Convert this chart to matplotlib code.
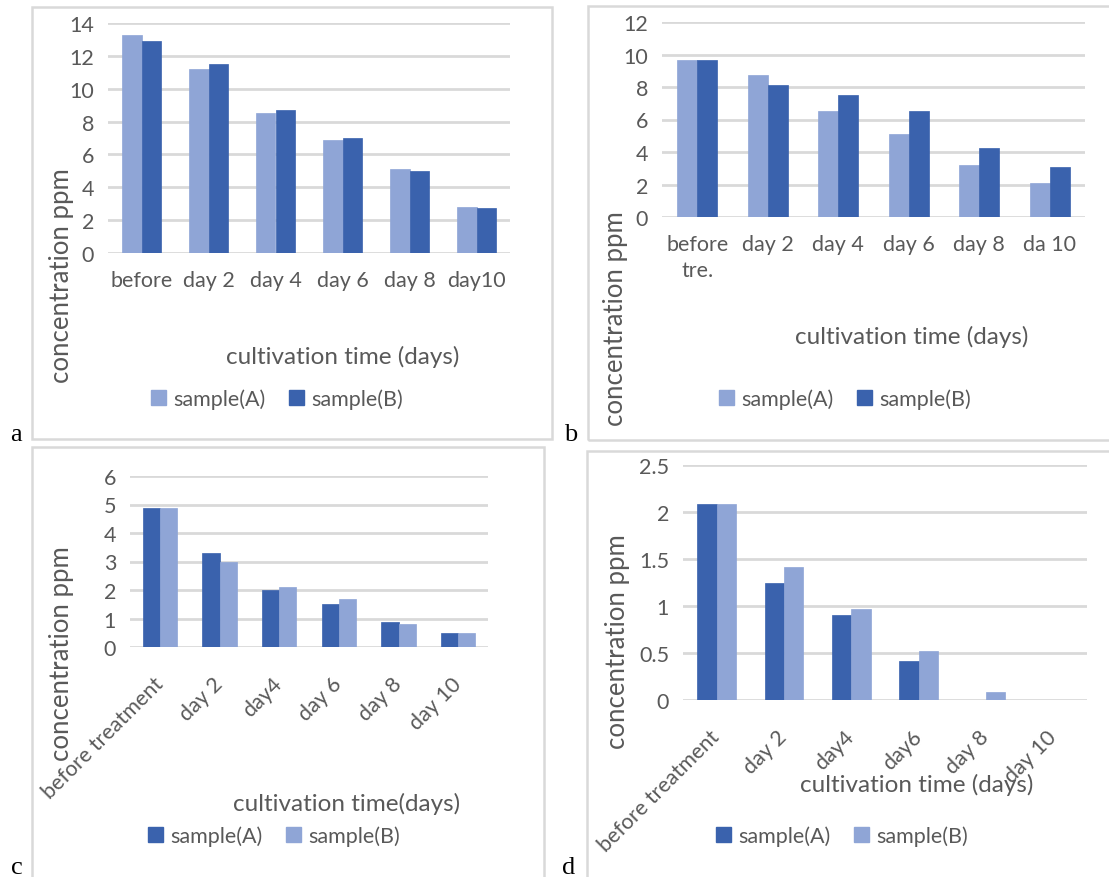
import matplotlib
matplotlib.use("Agg")
import matplotlib.pyplot as plt
from matplotlib.patches import Rectangle, Patch
import numpy as np

plt.rcParams['font.family'] = ['Lato', 'DejaVu Sans']

# ---------------- data ----------------
cats_a = ["before", "day 2", "day 4", "day 6", "day 8", "day10"]
a_sampleA = [13.3, 11.2, 8.5, 6.9, 5.1, 2.8]
a_sampleB = [12.9, 11.5, 8.7, 7.0, 5.0, 2.75]

cats_b = ["before\ntre.", "day 2", "day 4", "day 6", "day 8", "da 10"]
b_sampleA = [9.65, 8.75, 6.5, 5.13, 3.18, 2.09]
b_sampleB = [9.65, 8.1, 7.5, 6.5, 4.23, 3.08]

cats_c = ["before treatment", "day 2", "day4", "day 6", "day 8", "day 10"]
c_sampleA = [4.88, 3.3, 2.0, 1.5, 0.88, 0.5]
c_sampleB = [4.88, 2.98, 2.1, 1.68, 0.81, 0.5]

cats_d = ["before treatment", "day 2", "day4", "day6", "day 8", "day 10"]
d_sampleA = [2.09, 1.24, 0.9, 0.42, 0.0, 0.0]
d_sampleB = [2.09, 1.41, 0.97, 0.52, 0.08, 0.0]

LIGHT = "#8FA5D6"
DARK = "#3A62AD"
GRID = "#D9D9D9"
TXT = "#595959"

TICK_FS = 15.5
YLAB_FS = 18.5
XLAB_FS = 17.5
LEG_FS = 15.5

W, H = 1109, 878
fig = plt.figure(figsize=(W / 100, H / 100), dpi=100)


def fx(x):
    return x / W


def fy(y):
    return 1 - y / H


def box(x0, y0, x1, y1):
    fig.patches.append(Rectangle((fx(x0), fy(y1)), fx(x1) - fx(x0), fy(y0) - fy(y1),
                                 transform=fig.transFigure, fill=False,
                                 edgecolor=GRID, linewidth=1.8))


def panel(plot, ylim, yticks, ytl, cats, s1, s2, c1, c2, rot,
          ylab_pos, xlab_pos, xlab, leg_pos, letter, letter_pos):
    x0, y_top, x1, y_zero = plot
    ax = fig.add_axes([fx(x0), fy(y_zero), fx(x1) - fx(x0), fy(y_top) - fy(y_zero)])
    n = len(cats)
    x = np.arange(n)
    w = 0.285
    ax.bar(x - w / 2, s1, w, color=c1, edgecolor=c1, linewidth=0.5, zorder=3)
    ax.bar(x + w / 2, s2, w, color=c2, edgecolor=c2, linewidth=0.5, zorder=3)
    ax.set_xlim(-0.5, n - 0.5)
    ax.set_ylim(*ylim)
    ax.set_yticks(yticks)
    ax.set_yticklabels(ytl)
    for s in ax.spines.values():
        s.set_visible(False)
    ax.tick_params(length=0, colors=TXT, labelsize=TICK_FS, pad=10)
    ax.yaxis.grid(True, color=GRID, linewidth=2, zorder=0)
    ax.set_axisbelow(True)
    ax.set_xticks(x)
    if rot:
        ax.set_xticklabels(cats, rotation=45, ha='right', va='center',
                           rotation_mode='anchor', color=TXT, fontsize=TICK_FS)
        ax.tick_params(axis='x', pad=24)
    else:
        ax.set_xticklabels(cats, color=TXT, fontsize=TICK_FS, linespacing=1.4)
        ax.tick_params(axis='x', pad=12)
    fig.text(fx(ylab_pos[0]), fy(ylab_pos[1]), "concentration ppm", rotation=90,
             ha='center', va='center', color=TXT, fontsize=YLAB_FS)
    fig.text(fx(xlab_pos[0]), fy(xlab_pos[1]), xlab, ha='center', va='center',
             color=TXT, fontsize=XLAB_FS)
    handles = [Patch(facecolor=c1, edgecolor=c1), Patch(facecolor=c2, edgecolor=c2)]
    fig.legend(handles, ["sample(A)", "sample(B)"], loc='center',
               bbox_to_anchor=(fx(leg_pos[0]), fy(leg_pos[1])), ncol=2, frameon=False,
               handlelength=0.7, handleheight=0.7, handletextpad=0.35,
               columnspacing=1.1, labelcolor=TXT, fontsize=LEG_FS)
    fig.text(fx(letter_pos[0]), fy(letter_pos[1]), letter, family='Liberation Serif',
             fontsize=19, ha='left', va='baseline', color='black')
    return ax


# frames
box(32, 8, 552, 440)
box(588, 7, 1120, 441)
box(32, 448, 544, 885)
box(587, 452, 1120, 885)

panel((108, 24, 510, 254), (0, 14), range(0, 15, 2), [str(v) for v in range(0, 15, 2)],
      cats_a, a_sampleA, a_sampleB, LIGHT, DARK, False,
      (61, 276), (343, 357), "cultivation time (days)", (277, 400), "a", (10, 441))

panel((662, 23, 1085, 218), (0, 12), range(0, 13, 2), [str(v) for v in range(0, 13, 2)],
      cats_b, b_sampleA, b_sampleB, LIGHT, DARK, False,
      (616, 319), (912, 337), "cultivation time (days)", (845, 400), "b", (564, 441))

panel((130, 477, 488, 648), (0, 6), range(0, 7), [str(v) for v in range(0, 7)],
      cats_c, c_sampleA, c_sampleB, DARK, LIGHT, True,
      (62, 654), (347, 804), "cultivation time(days)", (274, 837), "c", (11, 874))

panel((683, 466, 1087, 701), (0, 2.5), [0, 0.5, 1, 1.5, 2, 2.5], ["0", "0.5", "1", "1.5", "2", "2.5"],
      cats_d, d_sampleA, d_sampleB, DARK, LIGHT, True,
      (617, 642), (917, 785), "cultivation time (days)", (842, 837), "d", (562, 874))

fig.savefig("out.png", dpi=100, facecolor="white")
